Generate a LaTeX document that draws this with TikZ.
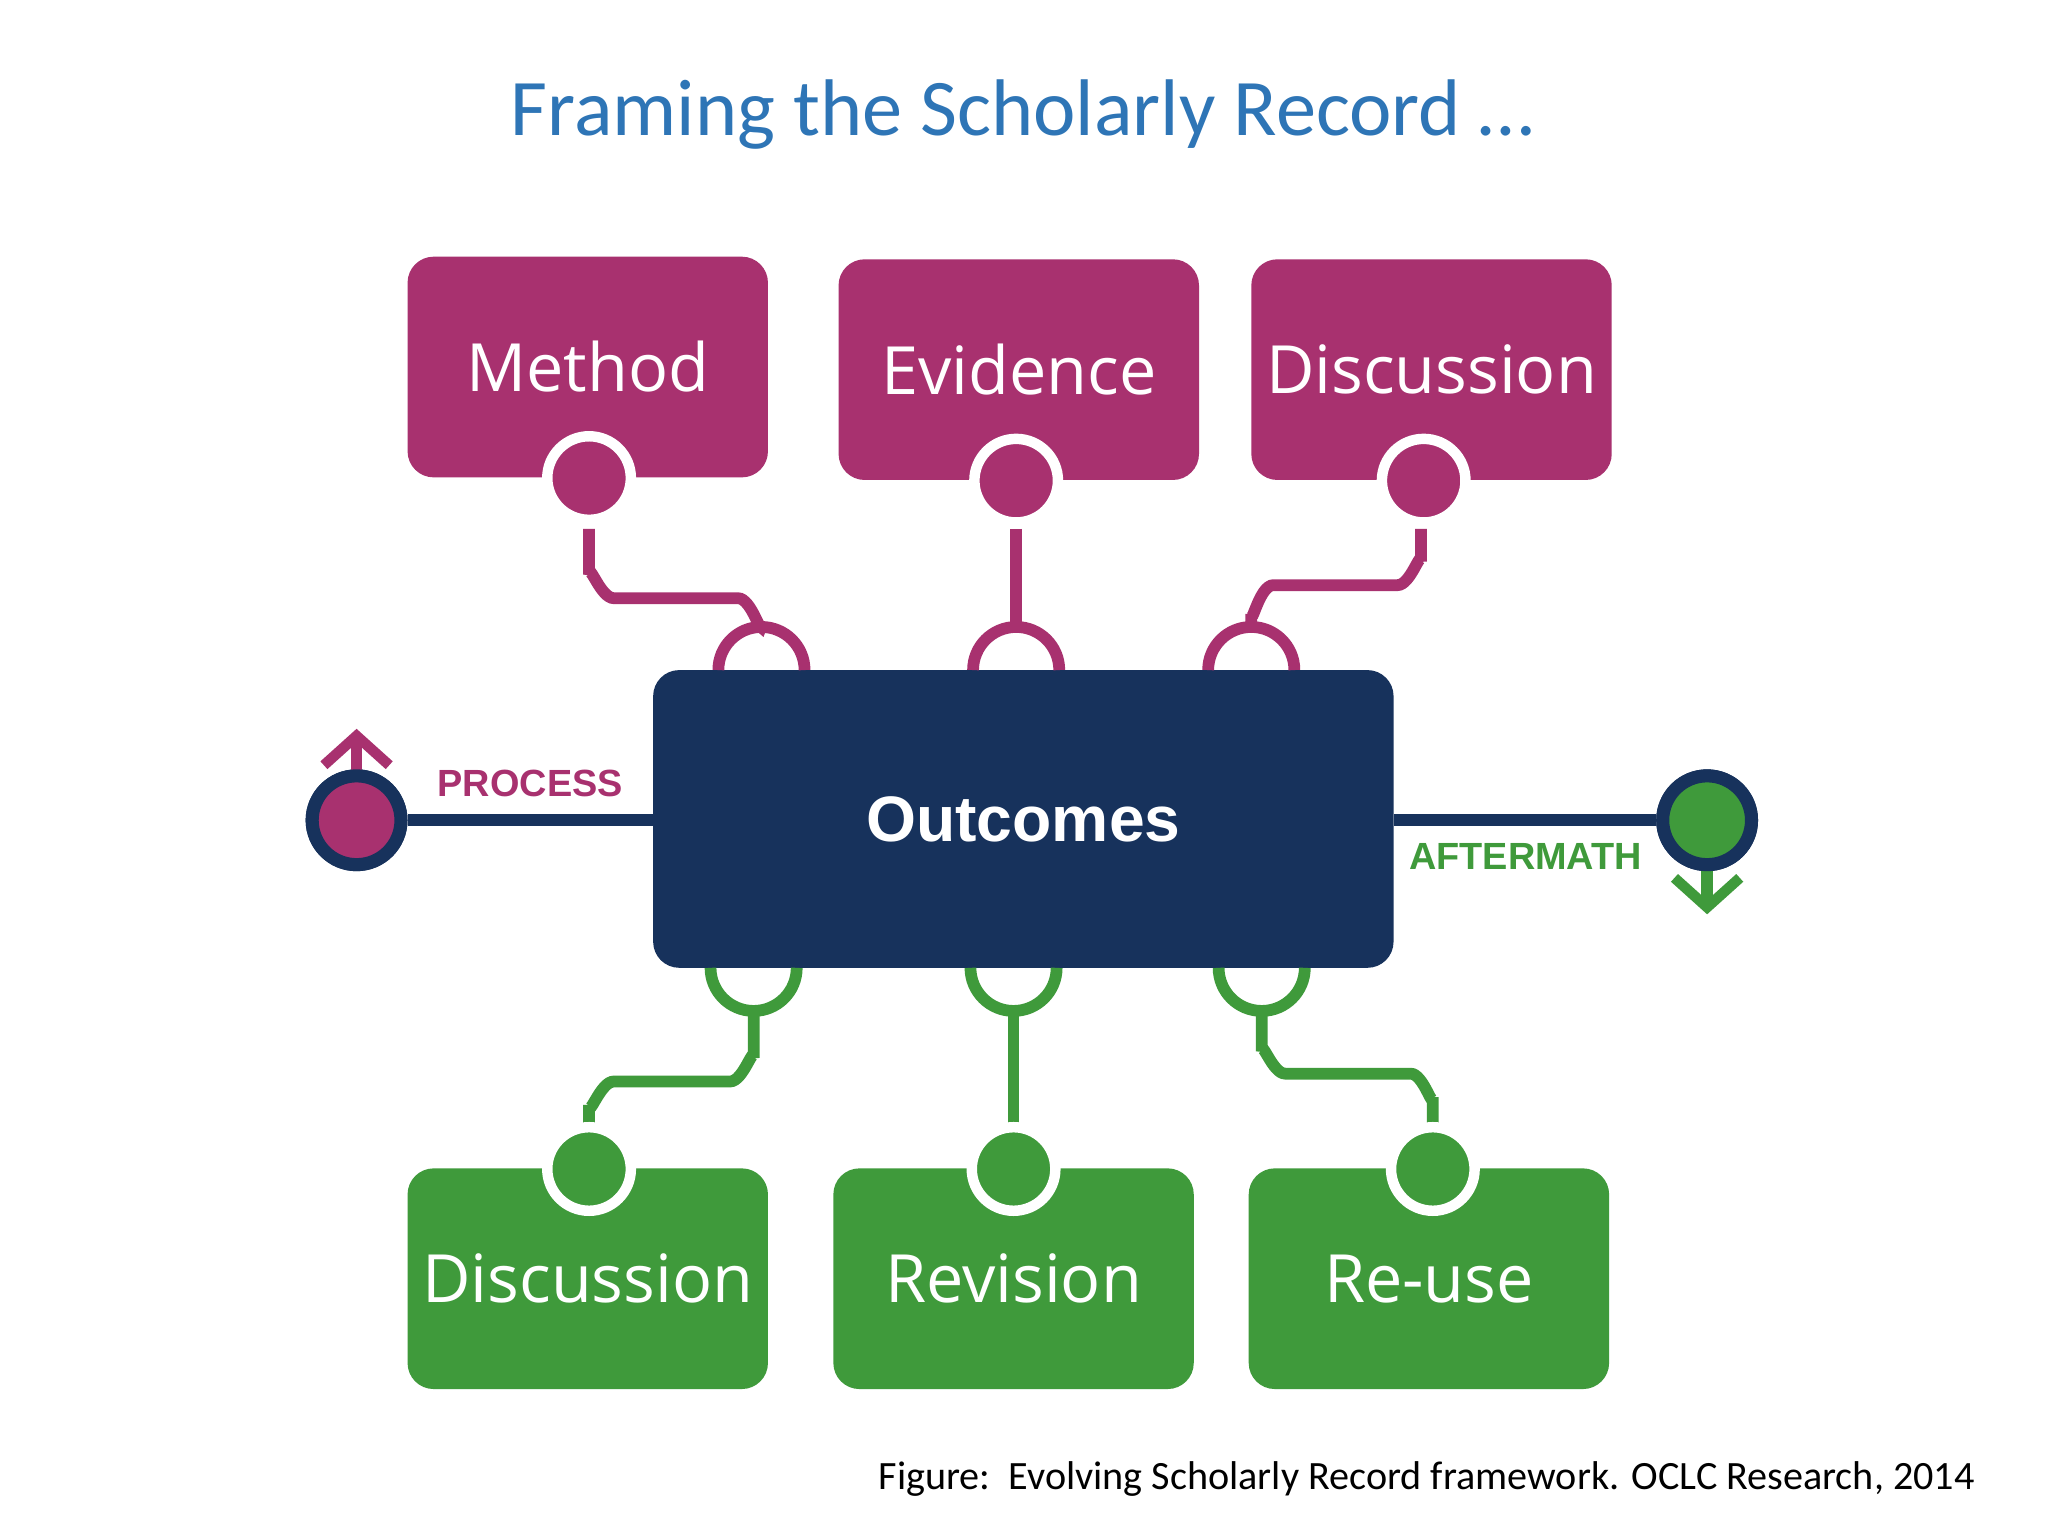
\documentclass[tikz,border=0pt]{standalone}
\usepackage{fontspec}
\setmainfont{Carlito}
\newfontfamily\boxf{Open Sans}
\newfontfamily\arialf{Liberation Sans}
\usetikzlibrary{arrows.meta}
\definecolor{mag}{HTML}{A8316F}
\definecolor{nav}{HTML}{17325C}
\definecolor{grn}{HTML}{3F9A3B}
\definecolor{ttl}{HTML}{2E75B6}
\begin{document}
\begin{tikzpicture}[x=0.02cm,y=-0.02cm,
  box/.style={rounded corners=0.4cm,minimum width=5.52cm,minimum height=3.38cm,inner sep=0,text=white,font=\boxf\fontsize{29}{30}\selectfont},
  mbox/.style={box,fill=mag},
  gbox/.style={box,fill=grn},
  wire/.style={line width=0.18cm},
  dot/.style={circle,fill=#1,draw=white,line width=0.16cm,minimum size=1.28cm,inner sep=0}]
\useasboundingbox (0,0) rectangle (1568,1176);
\fill[white] (0,0) rectangle (1568,1176);
\node[text=ttl,font=\fontsize{35}{40}\selectfont] (title) at (783,88) {Framing the Scholarly Record …};
% top boxes
\node[mbox] (m1) at (450,281) {Method};
\node[mbox] (m2) at (780,283) {Evidence};
\node[mbox] (m3) at (1096,283) {Discussion};
\node[gbox] (g1) at (450,979) {Discussion};
\node[gbox] (g2) at (776,979) {Revision};
\node[gbox] (g3) at (1094,979) {Re-use};
% outcomes
\node[fill=nav,rounded corners=0.4cm,minimum width=11.34cm,minimum height=4.56cm,inner sep=0,text=white,font=\arialf\bfseries\fontsize{28}{30}\selectfont] (out) at (783.5,627) {Outcomes};
% magenta wires
\draw[wire,mag] (451,405) -- (451,440) to[out=90,in=180] (470,458) -- (565,458) to[out=0,in=-90] (583,478);
\draw[wire,mag] (778,405) -- (778,478);
\draw[wire,mag] (1088,405) -- (1088,430) to[out=90,in=0] (1070,448) -- (975,448) to[out=180,in=-90] (958,470) -- (958,478);
\foreach \x in {583,778,958}{\draw[wire,mag] (\x-33,513) arc[start angle=180,end angle=0,radius=0.66cm];}
% green wires
\foreach \x in {577,776,966}{\draw[wire,grn] (\x-33,741) arc[start angle=180,end angle=360,radius=0.66cm];}
\draw[wire,grn] (577,774) -- (577,810) to[out=90,in=0] (559,828) -- (470,828) to[out=180,in=-90] (451,846) -- (451,870);
\draw[wire,grn] (776,774) -- (776,870);
\draw[wire,grn] (966,774) -- (966,805) to[out=90,in=180] (984,822) -- (1080,822) to[out=0,in=-90] (1097,840) -- (1097,860);
% dots
\node[dot=mag] (d1) at (451,366) {};
\node[dot=mag] (d2) at (778,368) {};
\node[dot=mag] (d3) at (1090,368) {};
\node[dot=grn] (e1) at (451,895) {};
\node[dot=grn] (e2) at (776,895) {};
\node[dot=grn] (e3) at (1097,895) {};
% process / aftermath
\node[circle,fill=mag,draw=nav,line width=0.2cm,minimum size=1.36cm,inner sep=0] (pc) at (273,628) {};
\node[circle,fill=grn,draw=nav,line width=0.2cm,minimum size=1.36cm,inner sep=0] (ac) at (1307,628) {};
\draw[wire,nav] (pc.east) -- (out.west |- pc.east);
\draw[wire,nav] (out.east |- ac.west) -- (ac.west);
\coordinate (pt) at (273,558);
\coordinate (ab) at (1307,700);
\draw[wire,mag,-{Straight Barb[length=0.45cm,width=1cm,line width=0.16cm]}] (pc.center) -- (pt);
\draw[wire,grn,-{Straight Barb[length=0.45cm,width=1cm,line width=0.16cm]}] (ac.center) -- (ab);
\node[dot=mag,draw=nav,line width=0.2cm,minimum size=1.36cm] at (pc) {};
\node[dot=grn,draw=nav,line width=0.2cm,minimum size=1.36cm] at (ac) {};
\node[text=mag,font=\arialf\bfseries\fontsize{16.5}{18}\selectfont] (pl) at (406,600) {PROCESS};
\node[text=grn,font=\arialf\bfseries\fontsize{16.5}{18}\selectfont] (al) at (1168,656) {AFTERMATH};
\node[anchor=east,font=\fontsize{17.5}{20}\selectfont] (cap) at (1518,1132) {Figure:\ \ Evolving Scholarly Record framework. OCLC Research, 2014};
\end{tikzpicture}
\end{document}
